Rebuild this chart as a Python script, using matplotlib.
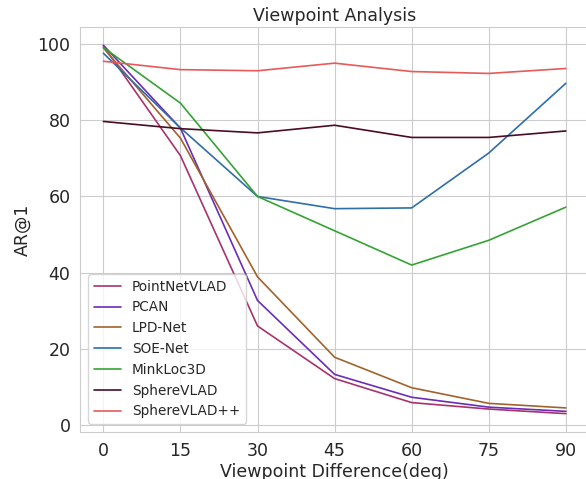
import matplotlib
matplotlib.use("Agg")
import matplotlib.pyplot as plt
import seaborn as sns

sns.set_style("whitegrid")
plt.rcParams['font.family'] = ['DejaVu Sans']

angles = [0, 15, 30, 45, 60, 75, 90]

methods = ["PointNetVLAD", "PCAN", "LPD-Net", "SOE-Net", "MinkLoc3D", "SphereVLAD", "SphereVLAD++"]
pointnetvlad = [99.5, 70.7, 26.0, 12.2, 5.9, 4.2, 3.0]
pcan = [99.7, 77.9, 32.7, 13.3, 7.3, 4.7, 3.6]
lpd_net = [99.0, 75.3, 38.9, 17.8, 9.8, 5.7, 4.5]
soe_net = [97.6, 78.0, 60.0, 56.8, 57.0, 71.4, 89.7]
minkloc3d = [99.1, 84.5, 60.0, 51.0, 42.0, 48.5, 57.2]
spherevlad = [79.7, 77.8, 76.7, 78.7, 75.5, 75.5, 77.2]
spherevlad_pp = [95.5, 93.3, 93.0, 95.0, 92.8, 92.3, 93.6]

colors = ["#a8326f", "#6a2db5", "#a2622c", "#2f6ea8", "#34a334", "#4c0b24", "#e8595c"]
series = [pointnetvlad, pcan, lpd_net, soe_net, minkloc3d, spherevlad, spherevlad_pp]

fig = plt.figure(figsize=(5.86, 4.79), dpi=100)
ax = fig.add_axes([0.137, 0.098, 0.868, 0.846])

for name, vals, c in zip(methods, series, colors):
    ax.plot(angles, vals, color=c, linewidth=1.2, label=name)

ax.set_xticks(angles)
ax.set_yticks([0, 20, 40, 60, 80, 100])
ax.tick_params(labelsize=12.5)
ax.set_xlabel("Viewpoint Difference(deg)", fontsize=12.5, labelpad=2)
ax.set_ylabel("AR@1", fontsize=12.5)
ax.set_title("Viewpoint Analysis", fontsize=12.5, pad=4)
ax.legend(loc="lower left", fontsize=9.8, framealpha=0.8, borderaxespad=0.6)

fig.savefig("out.png", dpi=100)
